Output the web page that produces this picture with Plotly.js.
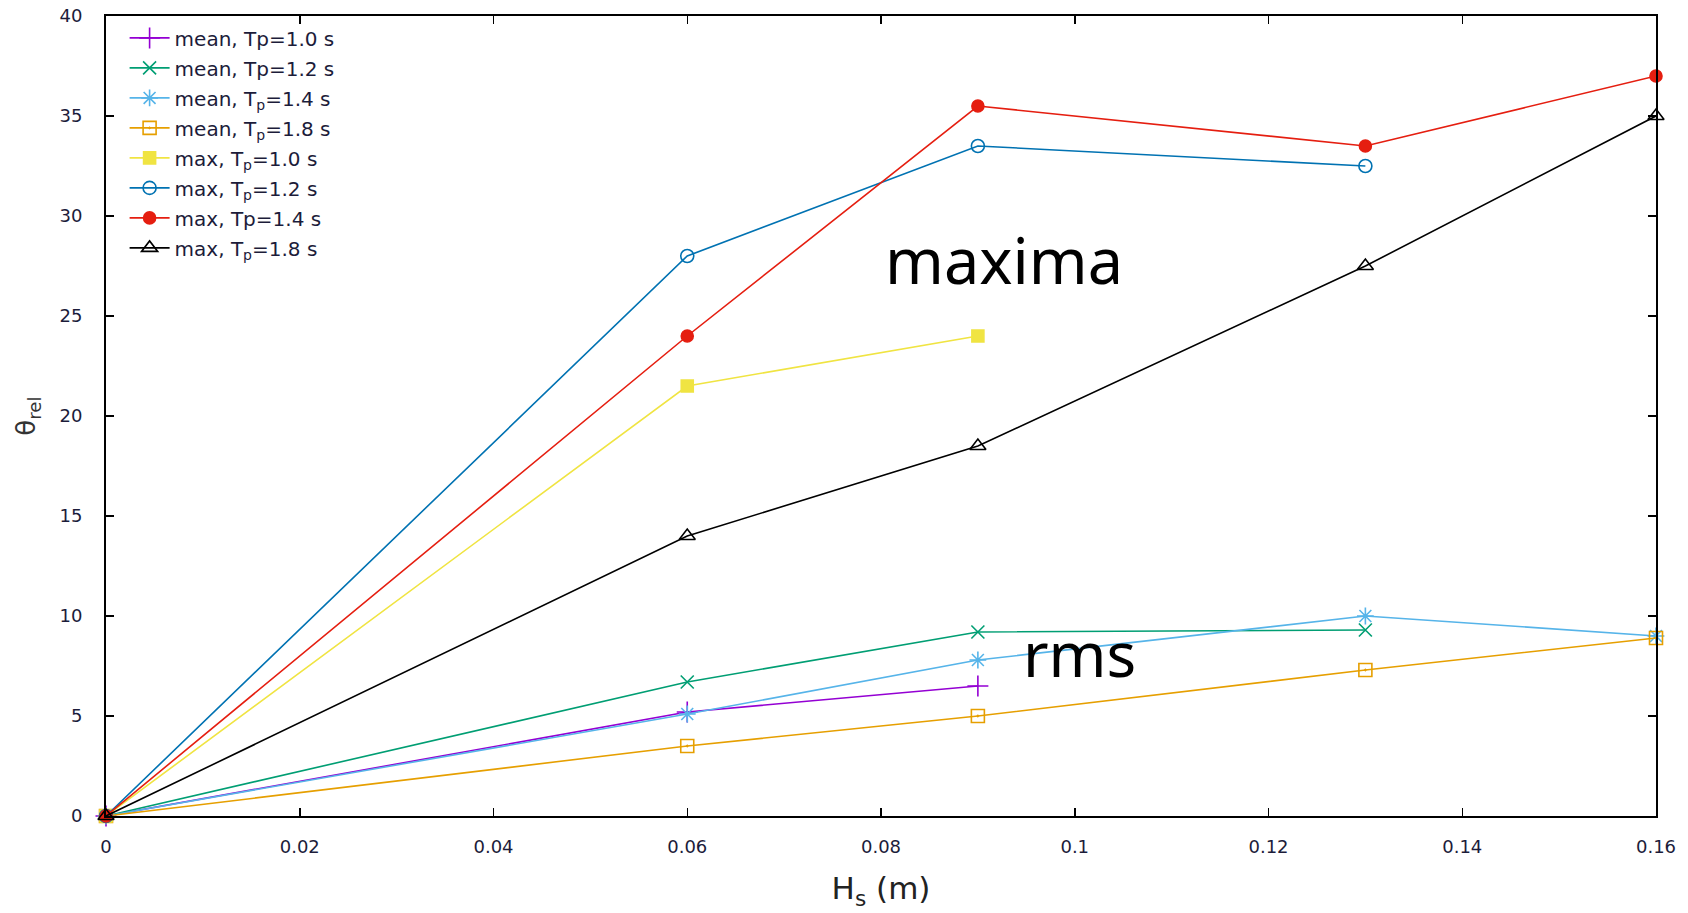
<!DOCTYPE html>
<html>
<head>
<meta charset="utf-8">
<script src="https://cdn.plot.ly/plotly-3.0.1.min.js"></script>
<style>html,body{margin:0;padding:0;background:#fff;}#chart{width:1688px;height:913px;}</style>
</head>
<body>
<div id="chart"></div>
<script>
// Hs (m) for each series
const hsMean10 = [0, 0.06, 0.09];
const hsMean12 = [0, 0.06, 0.09, 0.13];
const hsMean14 = [0, 0.06, 0.09, 0.13, 0.16];
const hsMean18 = [0, 0.06, 0.09, 0.13, 0.16];
const hsMax10 = [0, 0.06, 0.09];
const hsMax12 = [0, 0.06, 0.09, 0.13];
const hsMax14 = [0, 0.06, 0.09, 0.13, 0.16];
const hsMax18 = [0, 0.06, 0.09, 0.13, 0.16];

// theta_rel values
const mean10 = [0, 5.2, 6.5];
const mean12 = [0, 6.7, 9.2, 9.3];
const mean14 = [0, 5.1, 7.8, 10.0, 9.0];
const mean18 = [0, 3.5, 5.0, 7.3, 8.9];
const max10 = [0, 21.5, 24.0];
const max12 = [0, 28.0, 33.5, 32.5];
const max14 = [0, 24.0, 35.5, 33.5, 37.0];
const max18 = [0, 14.0, 18.5, 27.5, 35.0];

const names = [
  'mean, Tp=1.0 s', 'mean, Tp=1.2 s', 'mean, T<sub>p</sub>=1.4 s', 'mean, T<sub>p</sub>=1.8 s',
  'max, T<sub>p</sub>=1.0 s', 'max, T<sub>p</sub>=1.2 s', 'max, Tp=1.4 s', 'max, T<sub>p</sub>=1.8 s'
];

const series = [
  {x: hsMean10, y: mean10, color: '#9400d3', symbol: 'cross-thin-open', size: 15},
  {x: hsMean12, y: mean12, color: '#009e73', symbol: 'x-thin-open', size: 13},
  {x: hsMean14, y: mean14, color: '#56b4e9', symbol: 'asterisk-open', size: 14},
  {x: hsMean18, y: mean18, color: '#e69f00', symbol: 'square-open-dot', size: 13},
  {x: hsMax10, y: max10, color: '#f0e442', symbol: 'square', size: 12},
  {x: hsMax12, y: max12, color: '#0072b2', symbol: 'circle-open', size: 13},
  {x: hsMax14, y: max14, color: '#e51e10', symbol: 'circle', size: 12},
  {x: hsMax18, y: max18, color: '#000000', symbol: 'triangle-up-open', size: 14}
];

const traces = series.map((s, i) => ({
  type: 'scatter',
  mode: 'lines+markers',
  x: s.x, y: s.y,
  name: names[i],
  legendgroup: 'g' + i,
  cliponaxis: false,
  line: {color: s.color, width: 1.6},
  marker: {symbol: s.symbol, size: s.size, color: s.color, line: {color: s.color, width: 1.6}}
}));

const tickFont = {family: 'DejaVu Sans, Verdana, sans-serif', size: 18, color: '#1c1c3a'};

const layout = {
  width: 1688, height: 913,
  paper_bgcolor: '#ffffff', plot_bgcolor: '#ffffff',
  margin: {l: 106, r: 32, t: 16, b: 97},
  showlegend: true,
  legend: {
    x: 0.012, y: 0.997, xanchor: 'left', yanchor: 'top',
    bgcolor: 'rgba(255,255,255,0)',
    font: {family: 'DejaVu Sans, Verdana, sans-serif', size: 20, color: '#1c1c3a'},
    tracegroupgap: 1,
    itemwidth: 40
  },
  xaxis: {
    range: [0, 0.16], dtick: 0.02, tick0: 0,
    showgrid: false, zeroline: false,
    showline: true, linecolor: '#000', linewidth: 2, mirror: 'ticks',
    ticks: 'inside', ticklen: 8, tickwidth: 1.5, tickcolor: '#000',
    ticklabelstandoff: 13,
    tickfont: tickFont,
    title: {text: 'H<sub>s</sub> (m)', standoff: 22, font: {family: 'DejaVu Sans, Verdana, sans-serif', size: 31, color: '#222'}}
  },
  yaxis: {
    range: [0, 40], dtick: 5, tick0: 0,
    showgrid: false, zeroline: false,
    showline: true, linecolor: '#000', linewidth: 2, mirror: 'ticks',
    ticks: 'inside', ticklen: 8, tickwidth: 1.5, tickcolor: '#000',
    ticklabelstandoff: 18,
    tickfont: tickFont,
    title: {text: 'θ<sub>rel</sub>', standoff: 16, font: {family: 'DejaVu Sans, Verdana, sans-serif', size: 26, color: '#333'}}
  },
  annotations: [
    {x: 0.0927, y: 27.85, xref: 'x', yref: 'y', text: 'maxima', showarrow: false,
     font: {family: 'Noto Sans, Open Sans, sans-serif', size: 63, color: '#000'}},
    {x: 0.1005, y: 8.15, xref: 'x', yref: 'y', text: 'rms', showarrow: false,
     font: {family: 'Noto Sans, Open Sans, sans-serif', size: 62, color: '#000'}}
  ]
};

Plotly.newPlot('chart', traces, layout, {displayModeBar: false, staticPlot: true});
</script>
</body>
</html>
